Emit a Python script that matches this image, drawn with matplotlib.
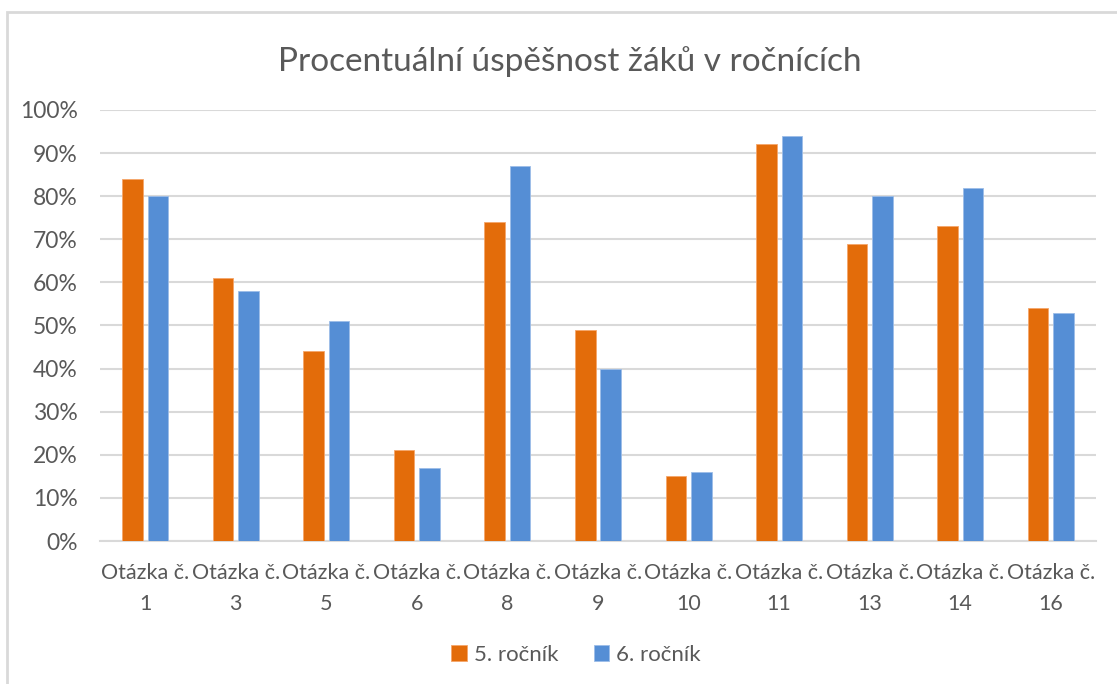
import numpy as np
import matplotlib.pyplot as plt
from matplotlib.patches import Rectangle
from matplotlib.ticker import PercentFormatter

# data
otazky = ['1', '3', '5', '6', '8', '9', '10', '11', '13', '14', '16']
rocnik5 = [84, 61, 44, 21, 74, 49, 15, 92, 69, 73, 54]
rocnik6 = [80, 58, 51, 17, 87, 40, 16, 94, 80, 82, 53]
serie = ['5. ročník', '6. ročník']

orange = '#E36C0A'
blue = '#558ED5'
text_col = '#595959'
grid_col = '#D9D9D9'

plt.rcParams['font.family'] = ['Lato', 'DejaVu Sans']

W, H = 1117, 684
fig = plt.figure(figsize=(W / 100, H / 100), dpi=100)

# chart frame (runs off the right and bottom edge)
fig.patches.append(Rectangle((7 / W, -0.1), 1.2, 1 - 12 / H + 0.1,
                             transform=fig.transFigure, fill=False,
                             edgecolor=grid_col, linewidth=2))

ax = fig.add_axes([100 / W, (H - 541) / H, (1096 - 100) / W, (541 - 110) / H])

x = np.arange(len(otazky))
bw = 0.227
gap = 0.055
ax.bar(x - (bw + gap) / 2, rocnik5, bw, color=orange, edgecolor='#F5A66A',
       linewidth=0.6, label=serie[0], zorder=3)
ax.bar(x + (bw + gap) / 2, rocnik6, bw, color=blue, edgecolor='#9DBDE8',
       linewidth=0.6, label=serie[1], zorder=3)

ax.set_xlim(-0.5, len(otazky) - 0.5)
ax.set_ylim(0, 100)
ax.set_yticks(np.arange(0, 101, 10))
ax.yaxis.set_major_formatter(PercentFormatter(decimals=0))
ax.set_xticks(x)
ax.set_xticklabels(['Otázka č.\n' + o for o in otazky], linespacing=1.65)

ax.grid(axis='y', color=grid_col, linewidth=1.5, zorder=0)
for s in ['top', 'right', 'left']:
    ax.spines[s].set_visible(False)
ax.spines['bottom'].set_color(grid_col)
ax.spines['bottom'].set_linewidth(1.5)
ax.tick_params(axis='both', length=0, colors=text_col)
ax.tick_params(axis='x', pad=16, labelsize=15.5)
ax.tick_params(axis='y', pad=16, labelsize=16.5)

fig.text(570 / W, 1 - 62 / H, 'Procentuální úspěšnost žáků v ročnících',
         ha='center', va='center', fontsize=24, color=text_col)

fig.legend(loc='center', bbox_to_anchor=(576 / W, 1 - 655 / H), ncol=2,
           frameon=False, fontsize=16, labelcolor=text_col,
           handlelength=0.7, handleheight=0.7, handletextpad=0.3,
           columnspacing=1.6)

fig.savefig('out.png', dpi=100)
